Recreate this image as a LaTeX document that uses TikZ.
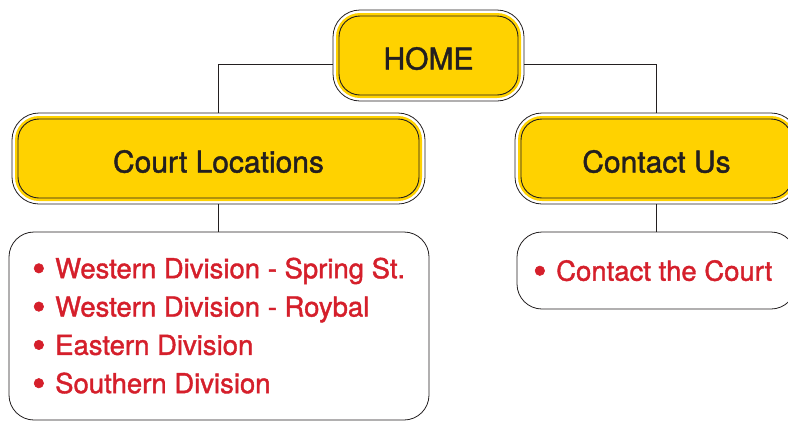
\documentclass[tikz,border=0pt]{standalone}
\usepackage{fontspec}
\setmainfont{TeX Gyre Heros}[FakeBold=1.4]
\definecolor{hyellow}{RGB}{255,210,0}
\definecolor{hdark}{RGB}{35,31,32}
\definecolor{hred}{RGB}{213,31,43}
\newcommand{\itm}[1]{\makebox[23pt][l]{\raisebox{-3.2pt}{\fontsize{38}{38}\selectfont •}}#1}
\tikzset{
  conn/.style={draw=hdark, line width=0.9pt},
  bigbox/.style={draw=hdark, line width=0.8pt, rounded corners=27pt, fill=white,
    text=hdark, text height=28pt, text depth=0pt, font=\fontsize{30}{36}\selectfont,
    path picture={
      \fill[hyellow, rounded corners=24pt]
        ([shift={(3,3)}]path picture bounding box.north west) rectangle
        ([shift={(-3,-3)}]path picture bounding box.south east);
      \draw[hdark, line width=0.9pt, rounded corners=21pt]
        ([shift={(6,6)}]path picture bounding box.north west) rectangle
        ([shift={(-6,-6)}]path picture bounding box.south east);
    }},
  listbox/.style={draw=hdark, line width=0.8pt, rounded corners=25pt, fill=white},
  listtext/.style={text=hred, align=left, inner sep=0pt, font=\fontsize{27.5}{38.3}\selectfont}
}
\begin{document}
\begin{tikzpicture}[x=1pt,y=-1pt]
\path[use as bounding box] (0,0) rectangle (788,421);
\clip (0,0) rectangle (788,421);
% top level
\node[bigbox, minimum width=191pt, minimum height=91pt] (home) at (428.5,55.5) {HOME};
\node[bigbox, minimum width=413pt, minimum height=91pt] (court) at (218.5,158.5) {Court Locations};
\node[bigbox, minimum width=283pt, minimum height=91pt] (contact) at (656.5,158.5) {Contact Us};
% connectors
\draw[conn] ([yshift=-9pt]home.west) -| (court.north);
\draw[conn] ([yshift=-9pt]home.east) -| (contact.north);
% lists
\node[listbox, minimum width=420pt, minimum height=188pt] (locs) at (219,326) {};
\node[listbox, minimum width=279pt, minimum height=77pt] (cbox) at (656.5,270.5) {};
\draw[conn] (court.south) -- (court.south |- locs.north);
\draw[conn] (contact.south) -- (contact.south |- cbox.north);
\node[listtext, anchor=west] (loclist) at (32,327) {\itm{Western Division - Spring St.}\\\itm{Western Division - Roybal}\\\itm{Eastern Division}\\\itm{Southern Division}};
\node[listtext, anchor=west] (clist) at (533,272) {\itm{Contact the Court}};
\end{tikzpicture}
\end{document}
